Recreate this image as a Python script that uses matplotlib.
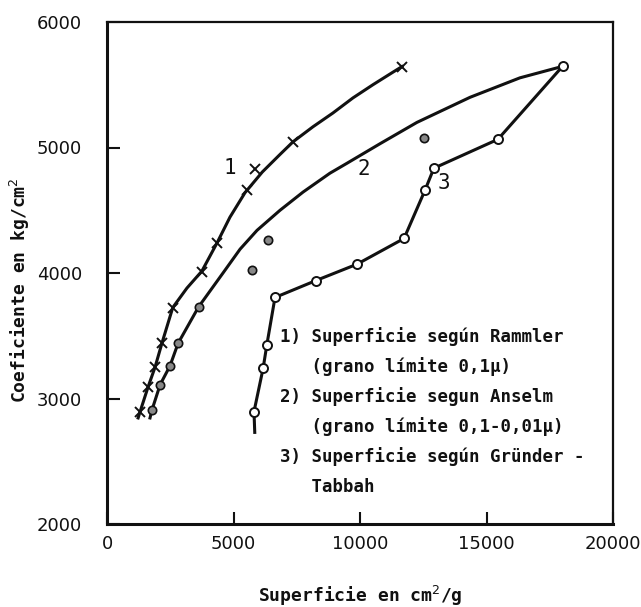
import matplotlib
matplotlib.use("Agg")
import matplotlib.pyplot as plt

FONT = ["DejaVu Sans Mono", "DejaVu Sans"]
INK = "#111111"

# curve 1: Rammler (crosses) - markers and line path
c1_mx = [1300, 1620, 1900, 2170, 2600, 3750, 4350, 5530, 7350, 11660]
c1_my = [2890, 3090, 3250, 3440, 3725, 4010, 4240, 4660, 5045, 5645]
c1_lx = [1230, 1300, 1620, 1900, 2170, 2600, 3160, 3750, 4350, 4860, 5455,
         6140, 6840, 7350, 8140, 8930, 9720, 10510, 11300, 11660]
c1_ly = [2845, 2890, 3090, 3250, 3440, 3725, 3880, 4015, 4240, 4445, 4640,
         4805, 4945, 5045, 5165, 5275, 5395, 5500, 5600, 5645]
c1_off_x = [5850]
c1_off_y = [4830]

# curve 2: Anselm (circled dots)
c2_mx = [1780, 2100, 2490, 2810, 3620]
c2_my = [2910, 3110, 3260, 3440, 3730]
c2_lx = [1700, 1780, 2100, 2490, 2810, 3620, 4585, 5260, 5930, 6840, 7750,
         8810, 9490, 10790, 12250, 14350, 16320, 17980]
c2_ly = [2845, 2910, 3110, 3260, 3440, 3730, 4000, 4190, 4340, 4500, 4645,
         4795, 4875, 5030, 5200, 5400, 5555, 5645]
c2_off_x = [5730, 6360, 12530]
c2_off_y = [4025, 4265, 5075]

# curve 3: Gruender - Tabbah (open circles)
c3_mx = [5810, 6170, 6320, 6640, 8260, 9880, 11740, 12570, 12920, 15450, 18020]
c3_my = [2895, 3240, 3430, 3805, 3940, 4070, 4275, 4660, 4835, 5065, 5650]
c3_lx = [5840] + c3_mx
c3_ly = [2730] + c3_my

x_ticks = [0, 5000, 10000, 15000, 20000]
y_ticks = [2000, 3000, 4000, 5000, 6000]

legend_lines = [
    "1) Superficie según Rammler",
    "   (grano límite 0,1μ)",
    "2) Superficie segun Anselm",
    "   (grano límite 0,1-0,01μ)",
    "3) Superficie según Gründer -",
    "   Tabbah",
]
curve_labels = ["1", "2", "3"]
curve_label_x = [4860, 10150, 13300]
curve_label_y = [4840, 4830, 4720]

fig = plt.figure(figsize=(6.41, 6.07), dpi=100)
ax = fig.add_axes([107 / 641, 1 - 524 / 607, 506 / 641, 502 / 607])

ax.plot(c1_lx, c1_ly, color=INK, lw=2.2, zorder=2)
ax.plot(c1_mx, c1_my, ls="none", marker="x", ms=7, mew=1.4, color=INK, zorder=3)
ax.plot(c1_off_x, c1_off_y, ls="none", marker="x", ms=7, mew=1.4, color=INK, zorder=3)

ax.plot(c2_lx, c2_ly, color=INK, lw=2.2, zorder=2)
ax.plot(c2_mx, c2_my, ls="none", marker="o", ms=6, mfc="#888888", mec=INK, mew=1.2, zorder=3)
ax.plot(c2_off_x, c2_off_y, ls="none", marker="o", ms=6, mfc="#888888", mec=INK, mew=1.2, zorder=3)

ax.plot(c3_lx, c3_ly, color=INK, lw=2.2, zorder=2)
ax.plot(c3_mx, c3_my, ls="none", marker="o", ms=6.5, mfc="white", mec=INK, mew=1.4, zorder=3)

for t, x, y in zip(curve_labels, curve_label_x, curve_label_y):
    ax.text(x, y, t, fontsize=15, family=FONT, color=INK, ha="center", va="center")

for i, line in enumerate(legend_lines):
    ax.text(6850, 3490 - i * 239, line, fontsize=12.5, family=FONT, fontweight="bold",
            color=INK, ha="left", va="center")

ax.set_xlim(0, 20000)
ax.set_ylim(2000, 6000)
ax.set_xticks(x_ticks)
ax.set_yticks(y_ticks)
ax.set_xticklabels([str(v) for v in x_ticks], family="DejaVu Sans", fontsize=13)
ax.set_yticklabels([str(v) for v in y_ticks], family="DejaVu Sans", fontsize=13)
ax.tick_params(direction="in", length=9, width=1.5, color=INK, labelcolor=INK)
ax.tick_params(axis="x", pad=8)
ax.tick_params(axis="y", pad=18)
for side, w in [("left", 2.2), ("bottom", 2.2), ("top", 1.6), ("right", 1.6)]:
    ax.spines[side].set_linewidth(w)
    ax.spines[side].set_color(INK)

ax.set_xlabel("Superficie en cm$^2$/g", family=FONT, fontsize=13, fontweight="bold",
              color=INK, labelpad=22)
fig.text(20 / 641, 1 - 290 / 607, "Coeficiente en kg/cm$^2$", rotation=90,
         family=FONT, fontsize=13, fontweight="bold", color=INK, ha="center", va="center")

fig.savefig("out.png", dpi=100, facecolor="white")
